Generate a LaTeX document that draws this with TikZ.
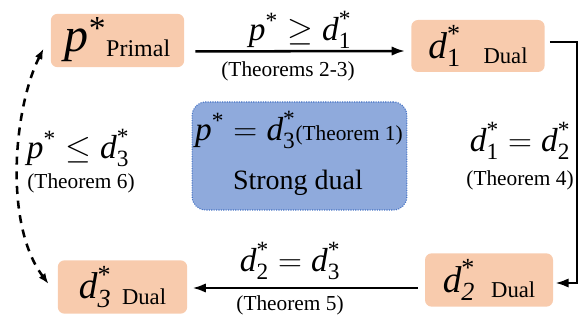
\documentclass[tikz,border=0pt]{standalone}
\usepackage{amsmath}
\usepackage{fontspec}
\setmainfont{Liberation Serif}
\usetikzlibrary{arrows.meta}

\definecolor{boxorange}{HTML}{F8CBAD}
\definecolor{boxblue}{HTML}{8FAADC}
\definecolor{lineblue}{HTML}{4472C4}

\newcommand{\fs}[1]{\fontsize{#1}{#1}\selectfont}
\newcommand{\mv}[1]{\text{\itshape #1}}
\newcommand{\opt}[2]{\mv{#1}^{\text{*}}_{#2}}

\begin{document}
\begin{tikzpicture}[x=0.75pt,y=-0.75pt,
    valbox/.style={fill=boxorange,rounded corners=5pt,inner sep=0pt},
    arr/.style={line width=1.9pt,-{Latex[length=10pt,width=7pt]}},
    dasharr/.style={line width=1.9pt,dash pattern=on 6pt off 5pt,{Latex[length=8pt,width=6pt]}-{Latex[length=8pt,width=6pt]}},
    thm/.style={font=\fs{16},inner sep=1pt},
    rel/.style={font=\fs{25},inner sep=1pt}]
    \useasboundingbox (0,0) rectangle (585,320);

    % Boxes
    \node[valbox,minimum width=100pt,minimum height=40pt] (primal) at (117.5,40.5)
        {\fs{36}$\opt{p}{}$\raisebox{-4pt}{\fs{18}Primal}};
    \node[valbox,minimum width=100pt,minimum height=39pt] (dual1) at (478,46)
        {\fs{28}$\opt{d}{\text{1}}$\hspace{17pt}\raisebox{-4pt}{\fs{17}Dual}};
    \node[valbox,minimum width=96pt,minimum height=40pt] (dual2) at (489,280)
        {\fs{28}$\opt{d}{\mv{2}}$\hspace{12pt}\raisebox{-4pt}{\fs{17}Dual}};
    \node[valbox,minimum width=97pt,minimum height=40pt] (dual3) at (122.5,287)
        {\fs{28}$\opt{d}{\mv{3}}$\hspace{8pt}\raisebox{-4pt}{\fs{17}Dual}};
    \node[fill=boxblue,draw=lineblue,densely dotted,line width=0.8pt,rounded corners=10pt,
        minimum width=161pt,minimum height=81pt] (strong) at (299.5,156) {};
    \node[inner sep=0pt] (strongeq) at (299,130)
        {\fs{25}$\opt{p}{}=\opt{d}{\text{3}}$\fs{16}(Theorem 1)};
    \node[inner sep=0pt,font=\fs{21}] (stronglbl) at (298,183) {Strong dual};

    % Arrows
    \draw[arr] ([shift={(11,-16)}]primal.south east) -- ([shift={(-6,5)}]dual1.west);
    \draw[arr] ([shift={(5,-4)}]dual1.east) -| ++(27,0) |- ([shift={(2,3)}]dual2.east);
    \draw[arr] ([shift={(-7,8)}]dual2.west) -- ([shift={(5,1)}]dual3.east);
    \draw[dasharr] ([shift={(-7,8)}]primal.west) .. controls +(-30,60) and +(-45,-60) .. ([shift={(-9,-3)}]dual3.west);

    % Labels
    \node[rel] (lbltop) at (300,30) {$\opt{p}{}\geq\opt{d}{\text{1}}$};
    \node[thm] (thmtop) at (288,71) {(Theorems 2-3)};
    \node[rel] (lblright) at (520,141) {$\opt{d}{\text{1}}=\opt{d}{\text{2}}$};
    \node[thm] (thmright) at (520,180) {(Theorem 4)};
    \node[rel] (lblbottom) at (290,261) {$\opt{d}{\text{2}}=\opt{d}{\text{3}}$};
    \node[thm] (thmbottom) at (290,305) {(Theorem 5)};
    \node[rel] (lblleft) at (78,148) {$\opt{p}{}\leq\opt{d}{\text{3}}$};
    \node[thm] (thmleft) at (81,183) {(Theorem 6)};

\end{tikzpicture}
\end{document}
